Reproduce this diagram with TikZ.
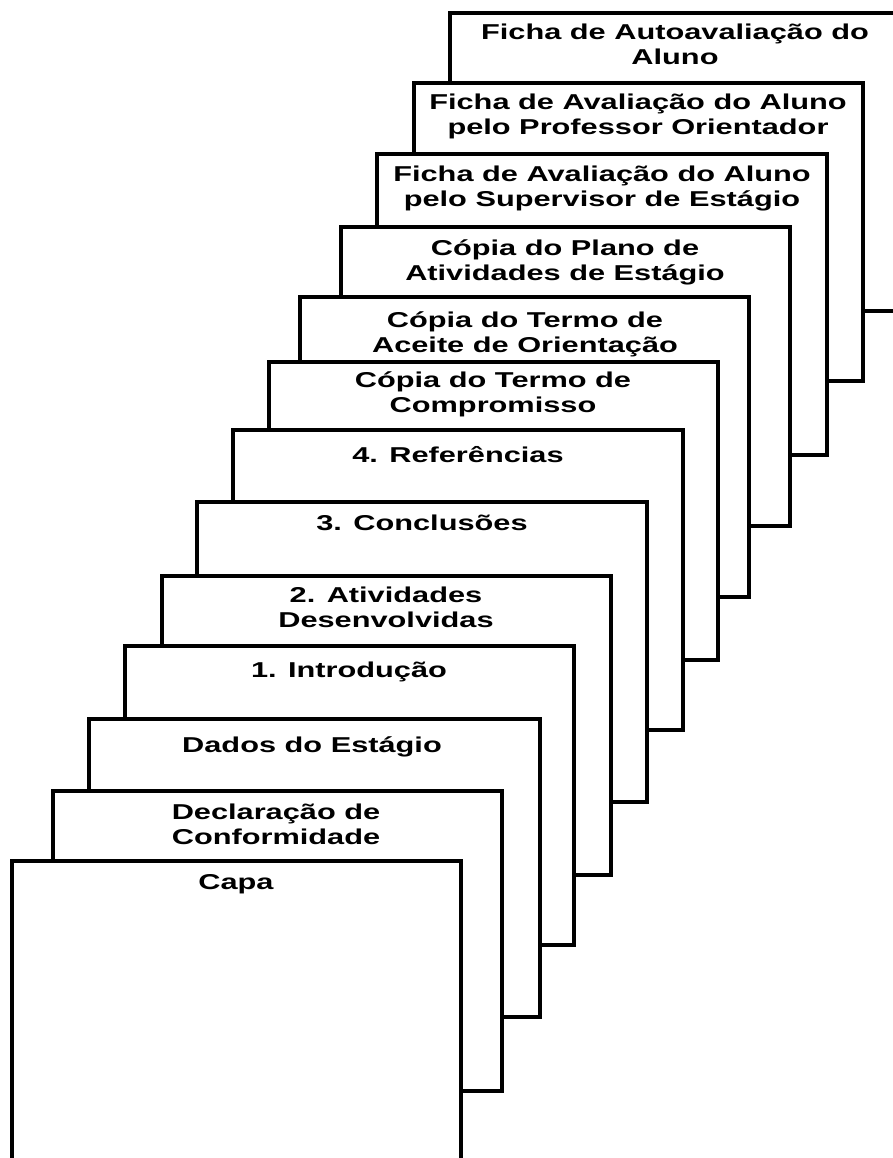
\documentclass[tikz,border=0pt]{standalone}
\usepackage{fontspec}
\newfontfamily\lblfamily[FakeStretch=1.43]{Liberation Sans}
\newcommand{\lblfont}{\lblfamily\bfseries\fontsize{21.5}{25}\selectfont}
\newcommand{\twolines}[2]{\vtop{\halign{\hfil##\hfil\cr#1\cr#2\cr}}}
\begin{document}
\begin{tikzpicture}[x=1pt,y=-1pt,
  page/.style={draw=black, line width=4.5pt, fill=white},
  lbl/.style={font=\lblfont, inner sep=0pt, anchor=base, text=black}]
\useasboundingbox (0,0) rectangle (893,1158);
\clip (0,0) rectangle (893,1158);
\fill[white] (0,0) rectangle (893,1158);
% back to front
\draw[page] (450,13) rectangle (900,311);
\node[lbl] (auto) at (675,40) {\twolines{Ficha de Autoavaliação do}{Aluno}};
\draw[page] (414,83) rectangle (863,381);
\node[lbl] (prof) at (638,110) {\twolines{Ficha de Avaliação do Aluno}{pelo Professor Orientador}};
\draw[page] (377,154) rectangle (827,455);
\node[lbl] (sup) at (602,182) {\twolines{Ficha de Avaliação do Aluno}{pelo Supervisor de Estágio}};
\draw[page] (341,227) rectangle (790,526);
\node[lbl] (plano) at (565,255) {\twolines{Cópia do Plano de}{Atividades de Estágio}};
\draw[page] (300,297) rectangle (749,597);
\node[lbl] (aceite) at (525,327) {\twolines{Cópia do Termo de}{Aceite de Orientação}};
\draw[page] (269,362) rectangle (718,660);
\node[lbl] (termo) at (493,387) {\twolines{Cópia do Termo de}{Compromisso}};
\draw[page] (233,430) rectangle (683,730);
\node[lbl] (ref) at (458,462) {4. Referências};
\draw[page] (197,502) rectangle (647,802);
\node[lbl] (concl) at (422,530) {3. Conclusões};
\draw[page] (162,576) rectangle (611,875);
\node[lbl] (ativ) at (386,602) {\twolines{2. Atividades}{Desenvolvidas}};
\draw[page] (125,646) rectangle (574,945);
\node[lbl] (intro) at (349,677) {1. Introdução};
\draw[page] (89,719) rectangle (540,1017);
\node[lbl] (dados) at (312,752) {Dados do Estágio};
\draw[page] (53,791) rectangle (502,1091);
\node[lbl] (decl) at (276,819) {\twolines{Declaração de}{Conformidade}};
\draw[page] (12,861) rectangle (461,1170);
\node[lbl] (capa) at (236,889) {Capa};
\end{tikzpicture}
\end{document}
